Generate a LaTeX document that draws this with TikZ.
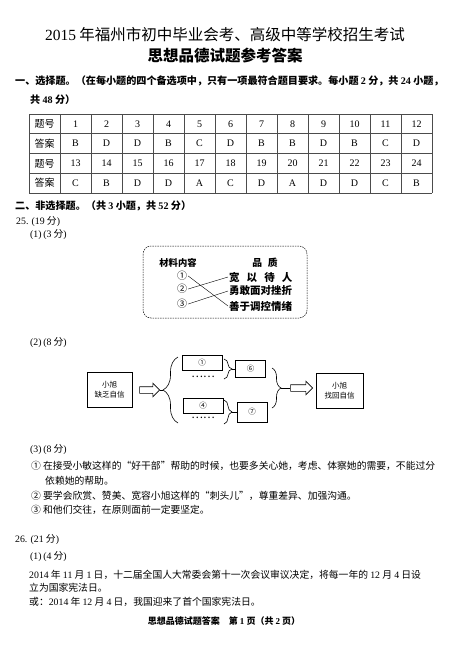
\documentclass[tikz,border=0pt]{standalone}
\usepackage{fontspec}
\setmainfont{Liberation Serif}
\newfontfamily\cjk{Noto Sans CJK SC}
\usetikzlibrary{shapes.arrows,decorations.pathreplacing}
\newcommand\nm[1]{{\rmfamily #1}}

\tikzset{
	txt/.style={anchor=west,inner sep=0pt,font=\cjk\fontsize{9.8}{12}\selectfont},
	hdr/.style={anchor=west,inner sep=0pt,font=\cjk\bfseries\fontsize{10.1}{12}\selectfont},
	cell/.style={inner sep=0pt,font=\fontsize{10}{12}\selectfont},
	rule/.style={gray!60!black,line width=.6pt},
	qual/.style={anchor=west,inner sep=1pt,font=\cjk\bfseries\fontsize{10.5}{12}\selectfont},
	box/.style={draw,rectangle,inner sep=0pt,line width=.6pt,align=center,font=\cjk\fontsize{7.5}{10}\selectfont},
	brc/.style={decorate,decoration={brace,amplitude=#1},line width=.6pt},
	hollow/.style={single arrow,draw,inner xsep=0pt,inner ysep=3pt,line width=.6pt,single arrow head extend=3.5pt,minimum height=#1}
}

\begin{document}
\begin{tikzpicture}[x=1pt,y=-1pt]
		\fill[white] (0,0) rectangle (450,645);
		\useasboundingbox (0,0) rectangle (450,645);
		\node[font=\cjk\fontsize{15.5}{18}\selectfont] (title) at (225,35) {\nm{2015} 年福州市初中毕业会考、高级中等学校招生考试};
		\node[font=\cjk\bfseries\fontsize{15.5}{18}\selectfont] (subtitle) at (225,55) {思想品德试题参考答案};
		\node[hdr] (sec1) at (15,80.5) {一、选择题。（在每小题的四个备选项中，只有一项最符合题目要求。每小题 \nm{2} 分，共 \nm{24} 小题，};
		\node[hdr] (sec1b) at (30,100) {共 \nm{48} 分）};
		% answer table
		\foreach \r in {0,...,4}
			\draw[rule] (29,{114+19.75*\r}) -- (432,{114+19.75*\r});
		\foreach \c in {0,...,13}
			\draw[rule] ({29+31*\c},114) -- ({29+31*\c},193);
		\foreach \r/\y in {1/123.9,3/163.4}
			\node[cell,font=\cjk\fontsize{10}{12}\selectfont] (h\r) at (44.5,\y) {题号};
		\foreach \r/\y in {2/143.6,4/183.1}
			\node[cell,font=\cjk\fontsize{10}{12}\selectfont] (h\r) at (44.5,\y) {答案};
		\foreach \a [count=\i] in {B,D,D,B,C,D,B,B,D,B,C,D} {
			\node[cell] (n\i) at ({44.5+31*\i},123.9) {\i};
			\node[cell] (a\i) at ({44.5+31*\i},143.6) {\a};
		}
		\foreach \a [count=\i from 13] in {C,B,D,D,A,C,D,A,D,D,C,B} {
			\node[cell] (n\i) at ({44.5+31*(\i-12)},163.4) {\i};
			\node[cell] (a\i) at ({44.5+31*(\i-12)},183.1) {\a};
		}
		\node[hdr] (sec2) at (15,206) {二、非选择题。（共 \nm{3} 小题，共 \nm{52} 分）};
		\node[txt] (q25) at (16,222) {\nm{25. (19} 分\nm{)}};
		\node[txt] (q25a) at (30,235) {\nm{(1)\,(3} 分\nm{)}};
		% matching
		\draw[dash pattern=on 1.5pt off 1pt,rounded corners=8pt,line width=.5pt] (143,246) rectangle (307,318);
		\node[font=\cjk\bfseries\fontsize{9.3}{11}\selectfont] (colA) at (178,263) {材料内容};
		\node[font=\cjk\bfseries\fontsize{9.8}{11}\selectfont] (colB) at (265,263) {品\hspace{.6em}质};
		\foreach \k/\y/\c in {1/276/①,2/289/②,3/304/③}
			\node[inner sep=1pt,font=\cjk\fontsize{10}{12}\selectfont] (m\k) at (182,\y) {\c};
		\node[qual] (p1) at (228,277) {宽\hspace{.67em}以\hspace{.67em}待\hspace{.67em}人};
		\node[qual] (p2) at (228,291) {勇敢面对挫折};
		\node[qual] (p3) at (228,306) {善于调控情绪};
		\draw (m1.east) -- (p3.west);
		\draw (m2.east) -- (p1.west);
		\draw (m3.east) -- (p2.west);
		\node[txt] (q25b) at (30,343) {\nm{(2)\,(8} 分\nm{)}};
		% flow
		\node[box,minimum width=45pt,minimum height=35pt] (lost) at (109.5,389.5) {小旭\\缺乏自信};
		\node[hollow=20pt] (ar1) at (148,390) {};
		\draw[brc=15pt] (178,423) -- (178,357);
		\coordinate (tipL) at (163,390);
		\draw (ar1.tip) -- (tipL);
		\node[box,minimum width=40pt,minimum height=15pt] (c1) at (202,362.5) {①};
		\node[font=\cjk\fontsize{11}{12}\selectfont,inner sep=0pt] (d1) at (203,377) {……};
		\node[box,minimum width=40pt,minimum height=15pt] (c4) at (203,405.5) {④};
		\node[font=\cjk\fontsize{11}{12}\selectfont,inner sep=0pt] (d4) at (203,418) {……};
		\draw[brc=8pt] (224,359) -- (224,379);
		\coordinate (tip1) at (232,369);
		\node[box,minimum width=30pt,minimum height=17pt] (c6) at (250.5,369) {⑥};
		\draw (tip1) -- (c6.west);
		\draw[brc=8pt] (224,400) -- (224,424);
		\coordinate (tip2) at (232,412);
		\node[box,minimum width=30pt,minimum height=20pt] (c7) at (252,412) {⑦};
		\draw (tip2) -- (c7.west);
		\draw[brc=9pt] (272,368) -- (272,408);
		\coordinate (tipR) at (281,388);
		\node[hollow=22pt] (ar2) at (300,388) {};
		\draw (tipR) -- (ar2.tail);
		\node[box,minimum width=47pt,minimum height=35pt] (found) at (339.5,390.5) {小旭\\找回自信};
		% answers
		\node[txt] (q25c) at (30,450) {\nm{(3)\,(8} 分\nm{)}};
		\node[txt] (r1) at (31,466) {① 在接受小敏这样的“好干部”帮助的时候，也要多关心她，考虑、体察她的需要，不能过分};
		\node[txt] (r1b) at (45,481) {依赖她的帮助。};
		\node[txt] (r2) at (31,496) {② 要学会欣赏、赞美、宽容小旭这样的“刺头儿”，尊重差异、加强沟通。};
		\node[txt] (r3) at (31,510) {③ 和他们交往，在原则面前一定要坚定。};
		\node[txt] (q26) at (15,540) {\nm{26. (21} 分\nm{)}};
		\node[txt] (q26a) at (30,557) {\nm{(1)\,(4} 分\nm{)}};
		\node[txt] (t1) at (29,575) {\nm{2014} 年 \nm{11} 月 \nm{1} 日，十二届全国人大常委会第十一次会议审议决定，将每一年的 \nm{12} 月 \nm{4} 日设};
		\node[txt] (t1b) at (29,588) {立为国家宪法日。};
		\node[txt] (t2) at (29,602) {或：\nm{2014} 年 \nm{12} 月 \nm{4} 日，我国迎来了首个国家宪法日。};
		\node[font=\cjk\bfseries\fontsize{9}{11}\selectfont] (foot) at (224,621) {思想品德试题答案\quad 第 \nm{1} 页（共 \nm{2} 页）};
\end{tikzpicture}
\end{document}
